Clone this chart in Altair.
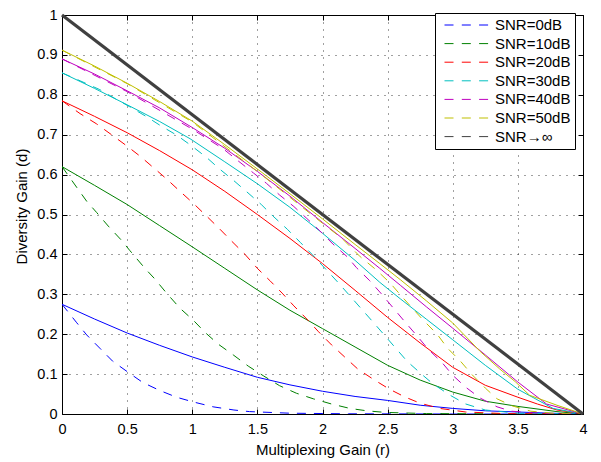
import altair as alt
import pandas as pd

FONT = "Liberation Sans"

series_names = ["SNR=0dB", "SNR=10dB", "SNR=20dB", "SNR=30dB", "SNR=40dB", "SNR=50dB", "SNR\u2192\u221e"]
series_colors = ["#0000ff", "#008000", "#ff0000", "#00bfbf", "#bf00bf", "#bfbf00", "#404040"]

x_ticks = [0, 0.5, 1, 1.5, 2, 2.5, 3, 3.5, 4]
y_ticks = [0, 0.1, 0.2, 0.3, 0.4, 0.5, 0.6, 0.7, 0.8, 0.9, 1]

# ---- solid curves ----
r_s0 = [0, 0.25, 0.5, 0.75, 1.0, 1.25, 1.5, 1.75, 2.0, 2.25, 2.5, 2.75, 3.0, 3.25, 3.5, 3.75, 4.0]
d_s0 = [0.275, 0.238, 0.203, 0.172, 0.143, 0.117, 0.092, 0.073, 0.057, 0.044, 0.034, 0.022, 0.014, 0.008, 0.005, 0.002, 0.0]

r_s10 = [0, 0.25, 0.5, 0.75, 1.0, 1.25, 1.5, 1.75, 2.0, 2.25, 2.5, 2.75, 3.0, 3.25, 3.5, 3.8, 4.0]
d_s10 = [0.62, 0.573, 0.525, 0.472, 0.419, 0.365, 0.311, 0.26, 0.214, 0.168, 0.122, 0.085, 0.055, 0.032, 0.019, 0.006, 0.0]

r_s20 = [0, 0.25, 0.5, 0.75, 1.0, 1.25, 1.5, 1.75, 2.0, 2.25, 2.5, 2.75, 3.0, 3.25, 3.5, 3.65, 3.8, 4.0]
d_s20 = [0.785, 0.746, 0.705, 0.66, 0.612, 0.558, 0.5, 0.44, 0.377, 0.31, 0.242, 0.178, 0.117, 0.072, 0.042, 0.025, 0.01, 0.0]

r_s30 = [0, 0.25, 0.5, 0.75, 0.983, 1.25, 1.5, 1.75, 2.0, 2.25, 2.44, 2.6, 2.8, 3.0, 3.25, 3.5, 3.77, 4.0]
d_s30 = [0.855, 0.816, 0.775, 0.733, 0.69, 0.632, 0.577, 0.518, 0.453, 0.385, 0.33, 0.288, 0.237, 0.186, 0.122, 0.062, 0.014, 0.0]

r_s40 = [0, 0.25, 0.5, 0.75, 1.0, 1.25, 1.5, 1.75, 2.0, 2.25, 2.44, 2.6, 2.8, 3.0, 3.25, 3.5, 3.72, 4.0]
d_s40 = [0.89, 0.852, 0.81, 0.767, 0.718, 0.666, 0.608, 0.546, 0.48, 0.415, 0.365, 0.322, 0.268, 0.215, 0.148, 0.08, 0.025, 0.0]

r_s50 = [0, 0.25, 0.5, 0.75, 1.0, 1.25, 1.5, 1.75, 2.0, 2.25, 2.44, 2.6, 2.8, 3.0, 3.21, 3.36, 3.48, 3.59, 3.8, 4.0]
d_s50 = [0.912, 0.872, 0.829, 0.783, 0.734, 0.675, 0.614, 0.552, 0.489, 0.425, 0.377, 0.336, 0.283, 0.228, 0.157, 0.113, 0.081, 0.047, 0.022, 0.0]

# ---- dashed curves ----
r_d0 = [0, 0.11, 0.19, 0.29, 0.39, 0.51, 0.62, 0.75, 0.88, 1.01, 1.16, 1.32, 1.44, 1.75, 2.2, 3.0, 4.0]
d_d0 = [0.275, 0.23, 0.198, 0.165, 0.132, 0.104, 0.079, 0.059, 0.042, 0.03, 0.018, 0.01, 0.006, 0.002, 0.0005, 0.0, 0.0]

r_d10 = [0, 0.1, 0.19, 0.266, 0.355, 0.458, 0.52, 0.637, 0.714, 0.8, 0.906, 1.008, 1.1, 1.2, 1.315, 1.43,
         1.545, 1.67, 1.8, 1.93, 2.07, 2.21, 2.34, 2.48, 2.8, 4.0]
d_d10 = [0.62, 0.574, 0.533, 0.505, 0.471, 0.435, 0.41, 0.365, 0.338, 0.304, 0.265, 0.235, 0.204, 0.175, 0.148, 0.12,
         0.096, 0.071, 0.052, 0.038, 0.025, 0.014, 0.008, 0.004, 0.001, 0.0]

r_d20 = [0, 0.138, 0.266, 0.38, 0.497, 0.6, 0.7, 0.8, 0.906, 1.008, 1.11, 1.21, 1.3, 1.405, 1.5, 1.6, 1.69,
         1.78, 1.88, 1.97, 2.07, 2.17, 2.27, 2.39, 2.51, 2.63, 2.75, 2.9, 3.1, 3.4, 4.0]
d_d20 = [0.785, 0.753, 0.727, 0.7, 0.672, 0.646, 0.618, 0.59, 0.558, 0.528, 0.496, 0.464, 0.434, 0.4, 0.365, 0.333, 0.303,
         0.271, 0.238, 0.206, 0.173, 0.143, 0.113, 0.087, 0.063, 0.043, 0.027, 0.014, 0.005, 0.001, 0.0]

r_d30 = [0, 0.14, 0.29, 0.41, 0.52, 0.65, 0.75, 0.88, 0.995, 1.11, 1.21, 1.315, 1.418, 1.53, 1.62, 1.73, 1.83, 1.92,
         2.11, 2.2, 2.4, 2.65, 2.76, 2.85, 2.98, 3.1, 3.25, 3.5, 4.0]
d_d30 = [0.855, 0.835, 0.813, 0.79, 0.77, 0.745, 0.724, 0.699, 0.672, 0.643, 0.614, 0.586, 0.557, 0.525, 0.496, 0.463, 0.43, 0.4,
         0.333, 0.3, 0.226, 0.132, 0.1, 0.075, 0.047, 0.025, 0.01, 0.002, 0.0]

r_d40 = [0, 0.5, 1.0, 1.12, 1.24, 1.35, 1.47, 1.57, 1.67, 1.78, 1.88, 1.98, 2.08, 2.19, 2.26, 2.36, 2.45,
         2.63, 2.72, 2.81, 2.92, 3.0, 3.1, 3.21, 3.34, 3.45, 3.7, 4.0]
d_d40 = [0.89, 0.808, 0.714, 0.689, 0.664, 0.635, 0.604, 0.578, 0.549, 0.52, 0.49, 0.459, 0.426, 0.394, 0.367, 0.335, 0.302,
         0.232, 0.198, 0.163, 0.128, 0.097, 0.067, 0.04, 0.018, 0.007, 0.001, 0.0]

r_d50 = [0, 0.5, 1.0, 1.5, 2.0, 2.15, 2.29, 2.41, 2.52, 2.6, 2.69, 2.78, 2.88, 2.96, 3.06, 3.15, 3.25, 3.34, 3.46, 3.6, 3.8, 4.0]
d_d50 = [0.912, 0.828, 0.732, 0.608, 0.478, 0.44, 0.394, 0.362, 0.328, 0.298, 0.265, 0.233, 0.2, 0.165, 0.132, 0.098, 0.065, 0.038, 0.02, 0.007, 0.001, 0.0]

# ---- asymptotic (SNR -> infinity) ----
r_inf = [0, 4]
d_inf = [1, 0]

solid_sets = [(r_s0, d_s0), (r_s10, d_s10), (r_s20, d_s20), (r_s30, d_s30), (r_s40, d_s40), (r_s50, d_s50)]
dashed_sets = [(r_d0, d_d0), (r_d10, d_d10), (r_d20, d_d20), (r_d30, d_d30), (r_d40, d_d40), (r_d50, d_d50)]


def make_df(sets):
    rows = []
    for name, (rs, ds) in zip(series_names, sets):
        for r, d in zip(rs, ds):
            rows.append({"series": name, "r": r, "d": d})
    return pd.DataFrame(rows)


df_solid = make_df(solid_sets)
df_dashed = make_df(dashed_sets)
df_inf = pd.DataFrame({"series": [series_names[-1]] * len(r_inf), "r": r_inf, "d": d_inf})

sx = alt.Scale(domain=[0, 4], nice=False, zero=False)
sy = alt.Scale(domain=[0, 1], nice=False, zero=False)

legend = alt.Legend(
    title=None, orient="none", legendX=373, legendY=-2,
    symbolType="stroke", symbolDash=[9, 8.3], symbolStrokeWidth=1, symbolSize=2025,
    clipHeight=16, rowPadding=2.6, padding=4, symbolOffset=5, labelOffset=5,
    labelFont=FONT, labelFontSize=15, labelColor="black",
    strokeColor="black", fillColor="white",
)
color = alt.Color("series:N", scale=alt.Scale(domain=series_names, range=series_colors), legend=legend)

grid_kw = dict(grid=True, gridColor="#000000", gridDash=[1, 6], gridWidth=1, gridOpacity=0.75)

x_main = alt.Axis(orient="bottom", values=x_ticks, format="~g", ticks=False, tickSize=0, domain=False,
                  labelFont=FONT, labelFontSize=14.5, labelColor="black", labelPadding=8,
                  labelFlush=False, labelOverlap=False,
                  title="Multiplexing Gain (r)", titleFont=FONT, titleFontSize=15, titleFontWeight="normal",
                  titleColor="black", titleY=40, titleBaseline="alphabetic", **grid_kw)
y_main = alt.Axis(orient="left", values=y_ticks, format="~g", ticks=False, tickSize=0, domain=False,
                  labelFont=FONT, labelFontSize=14.5, labelColor="black", labelPadding=5,
                  labelFlush=False, labelOverlap=False,
                  title="Diversity Gain (d)", titleFont=FONT, titleFontSize=15, titleFontWeight="normal",
                  titleColor="black", titleX=-36, titleY=191, titleAngle=270, titleAlign="center",
                  titleBaseline="alphabetic", **grid_kw)


def tick_axis(orient, values):
    return alt.Axis(orient=orient, values=values, offset=-5, ticks=True, tickSize=5, tickColor="black",
                    tickWidth=1, labels=False, domain=False, grid=False, title=None)


solid = alt.Chart(df_solid).mark_line(strokeWidth=1, clip=True).encode(
    x=alt.X("r:Q", scale=sx, axis=x_main),
    y=alt.Y("d:Q", scale=sy, axis=y_main),
    color=color,
)

dashed = alt.Chart(df_dashed).mark_line(strokeWidth=1, strokeDash=[9, 8], clip=True).encode(
    x=alt.X("r:Q", scale=sx, axis=tick_axis("top", x_ticks)),
    y=alt.Y("d:Q", scale=sy, axis=tick_axis("right", y_ticks)),
    color=color,
)

inf_line = alt.Chart(df_inf).mark_line(strokeWidth=3.2).encode(
    x=alt.X("r:Q", scale=sx, axis=tick_axis("bottom", x_ticks)),
    y=alt.Y("d:Q", scale=sy, axis=tick_axis("left", y_ticks)),
    color=color,
)

chart = (
    alt.layer(solid, dashed, inf_line)
    .resolve_axis(x="independent", y="independent")
    .properties(
        width=521, height=399,
        autosize=alt.AutoSizeParams(type="none"),
        padding={"left": 54, "top": 7, "right": 10, "bottom": 48},
        background="white",
    )
    .configure_view(stroke="black", strokeWidth=1)
)

chart.save("out.html", embed_options={"renderer": "svg", "actions": False})
